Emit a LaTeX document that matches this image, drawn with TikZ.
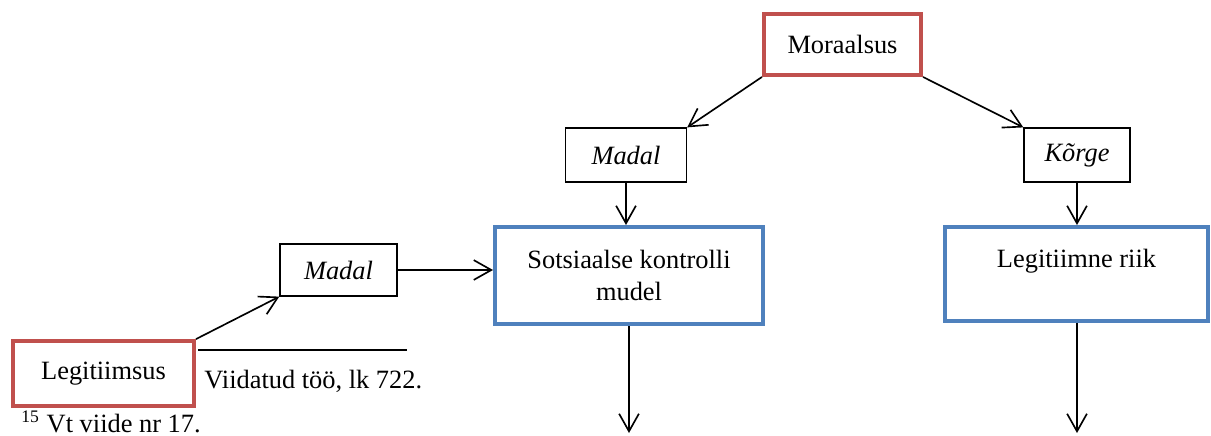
\documentclass[tikz,border=0pt]{standalone}
\usepackage{fontspec}
\setmainfont{Liberation Serif}
\usetikzlibrary{arrows.meta}
\definecolor{boxred}{HTML}{C0504D}
\definecolor{boxblue}{HTML}{4F81BD}

\begin{document}
\begin{tikzpicture}[x=0.4545pt,y=-0.4545pt,
    font=\fontsize{12pt}{14.5pt}\selectfont,
    >={Straight Barb[length=8pt,width=9pt]},
    every node/.style={inner sep=0pt,align=center},
    thinbox/.style={draw,line width=0.6pt},
    redbox/.style={draw=boxred,line width=1.8pt},
    bluebox/.style={draw=boxblue,line width=1.8pt},
    link/.style={->,line width=0.75pt}]


    \useasboundingbox (0,0) rectangle (1211,435);
    %\draw (0,0) rectangle (1211,435);

    % top of the tree
    \node[redbox,minimum width=71.4pt,minimum height=27.7pt] (mor) at (842.5,44.5) {Moraalsus};
    \node[thinbox,minimum width=55pt,minimum height=24.5pt] (madal) at (626,155) {\itshape Madal};
    \node[thinbox,minimum width=48.2pt,minimum height=24.5pt] (korge) at (1077,155) {\itshape Kõrge};

    \node[bluebox,minimum width=121.8pt,minimum height=44.1pt] (sots) at (629,275.5) {Sotsiaalse kontrolli\\mudel};
    \node[bluebox,minimum width=119.5pt,minimum height=42.7pt] (legit) at (1076.5,274) {Legitiimne riik\\\phantom{x}};

    % left branch
    \node[thinbox,minimum width=53.2pt,minimum height=23.6pt] (madalb) at (338.5,270) {\itshape Madal};
    \node[redbox,minimum width=82.3pt,minimum height=29.5pt] (legsus) at (103.5,373.5) {Legitiimsus};

    \coordinate (sotsend) at (629,433);
    \coordinate (legitend) at (1077,433);

    \draw[link] (mor.south west) -- (madal.north east);
    \draw[link] (mor.south east) -- (korge.north west);
    \draw[link] (madal.south) -- (madal.south |- sots.north);
    \draw[link] (korge.south) -- (korge.south |- legit.north);
    \draw[link] (sots.south) -- (sotsend);
    \draw[link] (legitend |- legit.south) -- (legitend);

    \draw[link] (legsus.north east) -- (madalb.south west);
    \draw[link] (madalb.east) -- (madalb.east -| sots.west);

    % footnote bits
    \draw[line width=0.7pt] (198,350) -- (407,350);
    \node[anchor=base west] (ref) at (204,388) {Viidatud töö, lk 722.};
    \node[anchor=base west] (fn) at (21,432) {\textsuperscript{15} Vt viide nr 17.};


\end{tikzpicture}
\end{document}
